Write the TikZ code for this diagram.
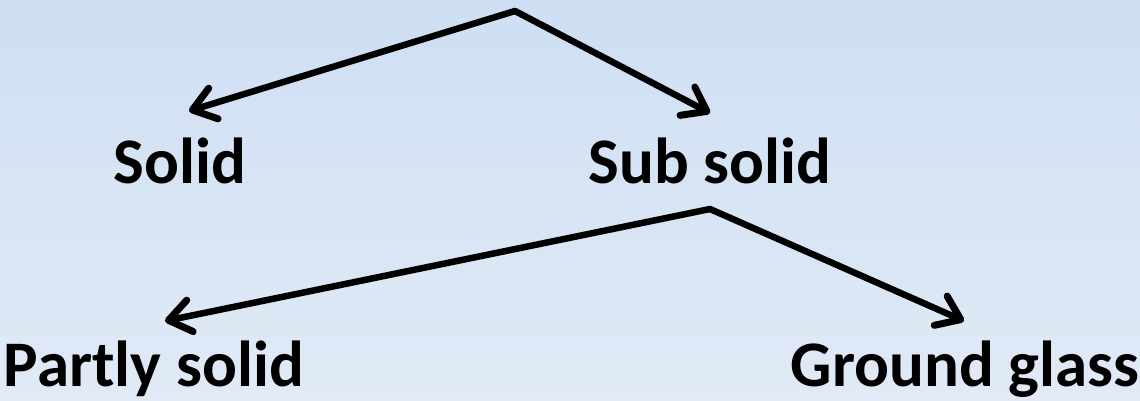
\documentclass[tikz,border=0pt]{standalone}
\usepackage{fontspec}
\setmainfont{Carlito}
\usetikzlibrary{arrows.meta}
\definecolor{bgtop}{HTML}{CEDFF3}
\definecolor{bgbottom}{HTML}{E1EAF6}
\tikzset{
  label/.style={font=\fontsize{65}{72}\selectfont\bfseries, anchor=base, inner sep=0pt},
  branch/.style={line width=6.5pt, line cap=round, line join=round,
    -{Straight Barb[length=22pt,width=32pt,line width=7pt,round]}}
}
\begin{document}
\begin{tikzpicture}[x=1pt,y=-1pt]
  % background
  \shade[top color=bgtop, bottom color=bgbottom] (0,0) rectangle (1140,401);
  \useasboundingbox (0,0) rectangle (1140,401);

  % labels
  \node[label] (solid) at (180,183) {Solid};
  \node[label] (subsolid) at (710,183) {Sub solid};
  \node[label] (partly) at (154,386) {Partly solid};
  \node[label] (ground) at (965,386) {Ground glass};

  % branch points and arrow ends
  \coordinate (root) at (515,11);
  \coordinate (solidtip) at (189,111);
  \coordinate (subtip) at (710,113);
  \coordinate (subroot) at (710,209);
  \coordinate (partlytip) at (165,321);
  \coordinate (groundtip) at (964,321);

  \draw[branch] (root) -- (solidtip);
  \draw[branch] (root) -- (subtip);
  \draw[branch] (subroot) -- (partlytip);
  \draw[branch] (subroot) -- (groundtip);
\end{tikzpicture}
\end{document}
